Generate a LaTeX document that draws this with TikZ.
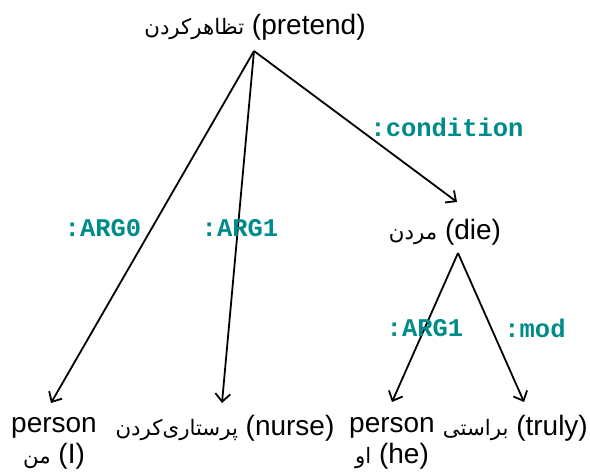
\documentclass[tikz,border=0pt]{standalone}
\usepackage{fontspec}
\setmainfont{Liberation Sans}
\setmonofont{Liberation Mono}
\newfontfamily\fa[Script=Arabic,Scale=0.76]{DejaVu Sans}
\TeXXeTstate=1
\usetikzlibrary{arrows.meta}
\definecolor{rolecol}{RGB}{0,139,139}
\newcommand\per[1]{{\fa\beginR #1\endR}}

\begin{document}
\begin{tikzpicture}[x=1pt,y=-1pt,
  concept/.style={font=\fontsize{28}{31}\selectfont, inner sep=0pt, align=center},
  role/.style={font=\fontsize{25.5}{29}\selectfont\ttfamily\bfseries, text=rolecol, inner sep=0pt},
  relation/.style={line width=1.8pt, -{Straight Barb[length=8pt,width=15pt]}}]
  \useasboundingbox (0,0) rectangle (590,473);

  % concepts
  \node[concept] (pretend) at (255,27)  {\per{تظاهرکردن} (pretend)};
  \node[concept] (die)     at (445,232) {\per{مردن} (die)};
  \node[concept] (i)       at (54,443)  {person\\\per{من} (I)};
  \node[concept] (nurse)   at (225,428) {\per{پرستاری‌کردن} (nurse)};
  \node[concept] (he)      at (392,443) {person\\\per{او} (he)};
  \node[concept, anchor=east] (truly) at (588,428) {\per{براستی} (truly)};

  % where the relations leave and arrive
  \coordinate (pretendFoot) at (254,51);
  \coordinate (dieTop)      at (457,202);
  \coordinate (dieFoot)     at (458,253);
  \coordinate (iTop)        at (51,403);
  \coordinate (nurseTop)    at (222,403);
  \coordinate (heTop)       at (392,402);
  \coordinate (trulyTop)    at (524,402);

  % relations
  \draw[relation] (pretendFoot) -- (iTop);
  \draw[relation] (pretendFoot) -- (nurseTop);
  \draw[relation] (pretendFoot) -- (dieTop);
  \draw[relation] (dieFoot) -- (heTop);
  \draw[relation] (dieFoot) -- (trulyTop);

  % relation labels
  \node[role] (argzero) at (103,228) {:ARG0};
  \node[role] (argone)  at (240,228) {:ARG1};
  \node[role] (cond)    at (447,127) {:condition};
  \node[role] (argtwo)  at (425,328) {:ARG1};
  \node[role] (mod)     at (535,328) {:mod};
\end{tikzpicture}
\end{document}
